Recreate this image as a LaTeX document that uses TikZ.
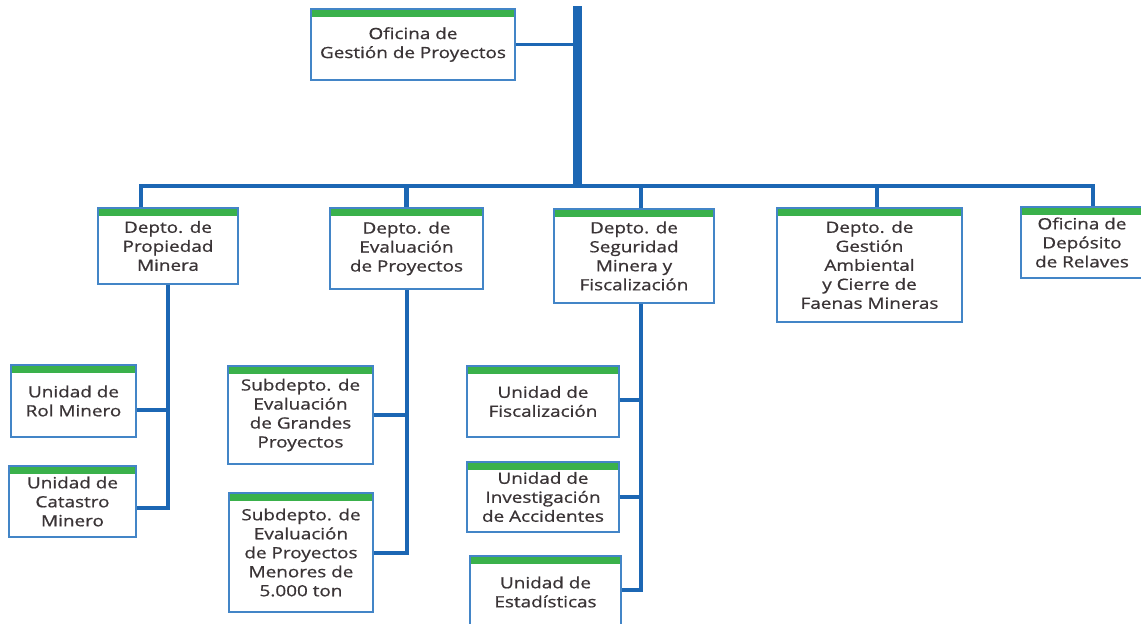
\documentclass[tikz,border=0pt]{standalone}
\usepackage{fontspec}
\setmainfont[FakeStretch=1.22,FakeBold=0.8]{Open Sans}
\usepackage{tikz}
\usetikzlibrary{positioning}
\usetikzlibrary{calc}

\definecolor{lineblue}{HTML}{1C67B4}
\definecolor{boxblue}{HTML}{4385C7}
\definecolor{bargreen}{HTML}{3AB14B}
\definecolor{txtgray}{HTML}{3A3436}

\begin{document}
\begin{tikzpicture}[x=1pt,y=-1pt,line join=miter,
	unitbox/.style={draw=boxblue, line width=1.5pt, fill=white, inner sep=0pt, align=center,
		text=txtgray, font=\fontsize{15.5}{19}\selectfont,
		execute at begin node={\rule{0pt}{20pt}},
		path picture={\fill[bargreen] (path picture bounding box.north west) rectangle ([yshift=-7.5pt]path picture bounding box.north east);}},
	trunk/.style={draw=lineblue, line width=9pt},
	bus/.style={draw=lineblue, line width=4.5pt},
	link/.style={draw=lineblue, line width=4pt}]
	\useasboundingbox (0,0) rectangle (1141,624);
	% top
	\node[unitbox, minimum width=204pt, minimum height=71pt] (ogp) at (413,44.5) {Oficina de\\Gestión de Proyectos};
	\coordinate (top) at (577,6);
	\coordinate (hub) at (577,186);
	% departments
	\node[unitbox, minimum width=140pt, minimum height=76pt] (dprop) at (168,246) {Depto. de\\Propiedad\\Minera};
	\node[unitbox, minimum width=153pt, minimum height=81pt] (deval) at (406.5,248.5) {Depto. de\\Evaluación\\de Proyectos};
	\node[unitbox, minimum width=160pt, minimum height=94pt] (dseg) at (634,256) {Depto. de\\Seguridad\\Minera y\\Fiscalización};
	\node[unitbox, minimum width=185pt, minimum height=114pt] (damb) at (869.5,265) {Depto. de\\Gestión\\Ambiental\\y Cierre de\\Faenas Mineras};
	\node[unitbox, minimum width=122pt, minimum height=71pt] (orel) at (1082,242.5) {Oficina de\\Depósito\\de Relaves};
	% units
	\node[unitbox, minimum width=125pt, minimum height=72pt] (urol) at (73.5,401) {Unidad de\\Rol Minero};
	\node[unitbox, minimum width=127pt, minimum height=71pt] (ucat) at (72.5,501.5) {Unidad de\\Catastro\\Minero};
	\node[unitbox, minimum width=145pt, minimum height=98pt] (sgra) at (300.5,415) {Subdepto. de\\Evaluación\\de Grandes\\Proyectos};
	\node[unitbox, minimum width=144pt, minimum height=119pt] (smen) at (301,552.5) {Subdepto. de\\Evaluación\\de Proyectos\\Menores de\\5.000 ton};
	\node[unitbox, minimum width=152pt, minimum height=71pt] (ufis) at (543,401.5) {Unidad de\\Fiscalización};
	\node[unitbox, minimum width=152pt, minimum height=70pt] (uinv) at (543,497) {Unidad de\\Investigación\\de Accidentes};
	\node[unitbox, minimum width=151pt, minimum height=72pt] (uest) at (545.5,592) {Unidad de\\Estadísticas};
	% drop points
	\coordinate (xprop) at (141,0);
	\coordinate (xseg) at (641,0);
	\coordinate (xamb) at (877,0);
	\coordinate (xrel) at (1093,0);
	% trunk and bus
	\draw[trunk] (top) -- (hub);
	\draw[link, line width=3.5pt] (ogp.east) -- (ogp.east -| top);
	\draw[bus] (xprop |- dprop.north) -- (xprop |- hub) -- (xrel |- hub) -- (xrel |- orel.north);
	\draw[bus] (deval.north |- hub) -- (deval.north);
	\draw[bus] (xseg |- hub) -- (xseg |- dseg.north);
	\draw[bus] (xamb |- hub) -- (xamb |- damb.north);
	% branches
	\draw[link] (dprop.south) -- (dprop.south |- 0,508) -- ([yshift=-6.5pt]ucat.east);
	\draw[link] ([yshift=-9pt]urol.east) -- ([yshift=-9pt]urol.east -| dprop.south);
	\draw[link] (deval.south) -- (deval.south |- smen.east) -- (smen.east);
	\draw[link] (sgra.east) -- (sgra.east -| deval.south);
	\draw[link] (xseg |- dseg.south) -- (xseg |- 0,590) -- ([yshift=2pt]uest.east);
	\draw[link] ([yshift=1.5pt]ufis.east) -- ([yshift=1.5pt]ufis.east -| xseg);
	\draw[link] (uinv.east) -- (uinv.east -| xseg);
\end{tikzpicture}
\end{document}
